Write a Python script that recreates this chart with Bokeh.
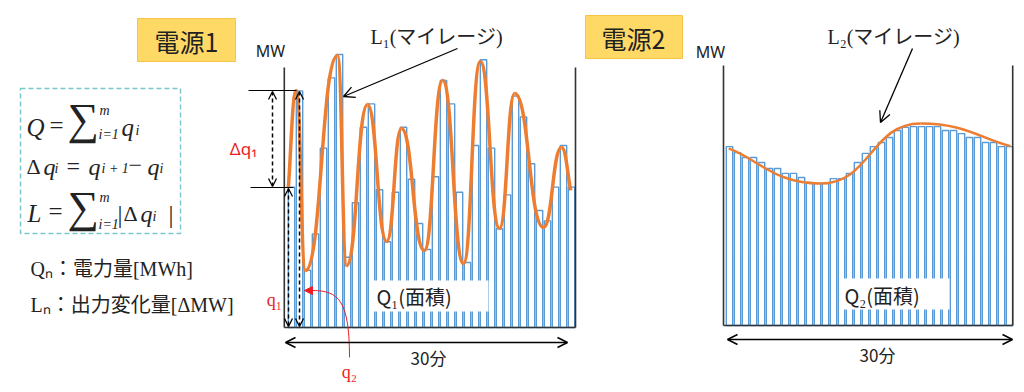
import numpy as np
from bokeh.plotting import figure
from bokeh.models import Range1d, Arrow, OpenHead, NormalHead
from bokeh.core.properties import value
from bokeh.embed import file_html
from bokeh.resources import INLINE

# ---------------- data ----------------
n_slots = 36
# source 1 output per interval (MW, arbitrary scale 0..100 = axis height)
source1_mw = [54, 91, 22, 36, 69, 96, 105, 27, 48, 77, 86, 53, 33, 52, 77, 57, 40, 30,
              58, 95, 86, 52, 25, 70, 103, 69, 38, 51, 89, 81, 63, 45, 41, 54, 70, 54]
# source 2 output per interval
source2_mw = [68.8, 66.5, 64.6, 64.6, 62.7, 60.4, 60.4, 58.5, 58.5, 56.9, 55.0, 54.6,
              54.6, 56.5, 56.5, 58.5, 62.7, 66.2, 68.8, 70.4, 72.3, 75.0, 76.2, 76.5,
              76.5, 76.5, 76.5, 75.0, 75.0, 73.8, 72.3, 72.3, 70.4, 70.4, 68.8, 68.8]
# mileage curves (turning points of the smooth lines)
curve1_t = [0.1, 1.1, 2.25, 6.25, 7.4, 10.0, 12.4, 14.25, 17.1, 19.4, 22.0, 24.1, 26.5,
            28.4, 32.0, 34.25, 35.4]
curve1_mw = [53.8, 91.2, 21.9, 104.6, 23.8, 85.8, 33.1, 76.5, 29.6, 95.0, 24.6, 102.3,
             38.1, 90.0, 38.5, 69.2, 52.7]
curve2_t = [0.4, 11.9, 24.4, 35.6]
curve2_mw = [68.1, 54.6, 77.7, 69.0]

titles = ["電源1", "電源2"]
area_labels = ["Q₁(面積)", "Q₂(面積)"]
mileage_labels = ["L₁(マイレージ)", "L₂(マイレージ)"]
unit_label = "MW"
span_label = "30分"
legend_lines = ["Qₙ：電力量[MWh]", "Lₙ：出力変化量[ΔMW]"]

# ---------------- figure ----------------
W, H = 1024, 392
p = figure(width=W, height=H, x_range=Range1d(0, W), y_range=Range1d(H, 0),
           output_backend="svg", toolbar_location=None, min_border=0,
           x_axis_type=None, y_axis_type=None)
p.grid.visible = False
p.outline_line_color = None
p.background_fill_color = "white"

PX_X = 8.0   # pixels per interval
PX_Y = 2.6   # pixels per MW unit


def chart_ranges(x0_px, y0_px):
    xr = Range1d((0 - x0_px) / PX_X, (W - x0_px) / PX_X)
    yr = Range1d((y0_px - H) / PX_Y, (y0_px - 0) / PX_Y)
    return xr, yr


x1r, y1r = chart_ranges(287, 327)
x2r, y2r = chart_ranges(725, 325)
p.extra_x_ranges = {"c1x": x1r, "c2x": x2r}
p.extra_y_ranges = {"c1y": y1r, "c2y": y2r}

BLUE = "#5B9BD5"
ORANGE = "#ED7D31"
RED = "#EE1C25"
DARK = "#222222"
CJK = "Noto Sans CJK JP"
SERIF_CJK = "'Liberation Serif', 'Noto Sans CJK JP'"


def txt(x, y, s, size, font=CJK, color=DARK, style="normal", align="left", baseline="middle"):
    p.text(x=[x], y=[y], text=[s], text_font=value(font), text_font_size=f"{size}px",
           text_font_style=style, text_color=color, text_align=align, text_baseline=baseline)


def bezier_curve(ts, vs, xr_name, yr_name, width):
    n = len(ts)
    x0, y0, x1, y1, cx0, cy0, cx1, cy1 = [], [], [], [], [], [], [], []
    for i in range(n - 1):
        ax, ay, bx, by = ts[i], vs[i], ts[i + 1], vs[i + 1]
        dx, dy = bx - ax, by - ay
        if i == 0:
            c0 = (ax + dx / 3, ay + dy / 3)
        else:
            c0 = (ax + dx / 2, ay)
        if i + 1 == n - 1:
            c1 = (bx - dx / 3, by - dy / 3)
        else:
            c1 = (bx - dx / 2, by)
        x0.append(ax); y0.append(ay); x1.append(bx); y1.append(by)
        cx0.append(c0[0]); cy0.append(c0[1]); cx1.append(c1[0]); cy1.append(c1[1])
    p.bezier(x0=x0, y0=y0, x1=x1, y1=y1, cx0=cx0, cy0=cy0, cx1=cx1, cy1=cy1,
             line_color=ORANGE, line_width=width, x_range_name=xr_name, y_range_name=yr_name)


t = np.arange(n_slots) + 0.5

# ---------- chart 1 ----------
p.vbar(x=t, top=source1_mw, bottom=0, width=0.8, fill_color="white", line_color=BLUE,
       line_width=1.4, x_range_name="c1x", y_range_name="c1y")
p.quad(left=[370], right=[488], top=[280], bottom=[311], fill_color="white", line_color=None)
txt(376, 296, area_labels[0], 20)
bezier_curve(curve1_t, curve1_mw, "c1x", "c1y", 3.5)
p.segment(x0=[-0.4, -0.4, 36.0], y0=[100, 0, 100], x1=[-0.4, 36.0, 36.0], y1=[0, 0, 0],
          line_color="#333333", line_width=1.6, x_range_name="c1x", y_range_name="c1y")

# ---------- chart 2 ----------
p.vbar(x=t, top=source2_mw, bottom=0, width=0.8, fill_color="white", line_color=BLUE,
       line_width=1.4, x_range_name="c2x", y_range_name="c2y")
p.quad(left=[843], right=[949], top=[278], bottom=[309], fill_color="white", line_color=None)
txt(844, 295, area_labels[1], 20)
bezier_curve(curve2_t, curve2_mw, "c2x", "c2y", 2.5)
p.segment(x0=[-0.25, -0.25, 35.9], y0=[100, 0, 100], x1=[-0.25, 35.9, 35.9], y1=[0, 0, 0],
          line_color="#333333", line_width=1.6, x_range_name="c2x", y_range_name="c2y")

# ---------- titles ----------
p.quad(left=[137, 585], right=[235, 682], top=[18, 15], bottom=[61, 58],
       fill_color="#FFD966", line_color="#F4C445", line_width=1)
txt(186, 40, titles[0], 25, align="center")
txt(633, 37, titles[1], 25, align="center")

txt(270, 50, unit_label, 16, font="Noto Sans", align="center")
txt(710, 51, unit_label, 16, font="Noto Sans", align="center")

# mileage labels + arrows
txt(370, 36, mileage_labels[0], 20, font=SERIF_CJK)
txt(827, 36, mileage_labels[1], 20, font=SERIF_CJK)
p.add_layout(Arrow(end=OpenHead(size=11, line_width=1.3), x_start=457, y_start=48,
                   x_end=343, y_end=96, line_width=1.3))
p.add_layout(Arrow(end=OpenHead(size=11, line_width=1.3), x_start=912, y_start=48,
                   x_end=880, y_end=122, line_width=1.3))

# 30 min spans
p.add_layout(Arrow(start=OpenHead(size=10, line_width=1.5), end=OpenHead(size=10, line_width=1.5),
                   x_start=285, y_start=342, x_end=567, y_end=342, line_width=1.5))
p.add_layout(Arrow(start=OpenHead(size=10, line_width=1.5), end=OpenHead(size=10, line_width=1.5),
                   x_start=727, y_start=339, x_end=1012, y_end=339, line_width=1.5))
txt(428, 357, span_label, 17, align="center")
txt(877, 354, span_label, 17, align="center")

# delta q1 dimension
p.segment(x0=[248, 250], y0=[90, 187], x1=[296, 293], y1=[90, 187], line_color="black", line_width=1.2)
for xs, ya, yb in [(272, 186, 91), (288, 188, 326), (299, 91, 326)]:
    p.add_layout(Arrow(start=OpenHead(size=8, line_width=1.3), end=OpenHead(size=8, line_width=1.3),
                       x_start=xs, y_start=ya, x_end=xs, y_end=yb, line_width=1.5, line_dash="4 3"))
txt(243, 148, "Δq₁", 17, font="Noto Sans", color=RED, align="center")
txt(274, 299, "q₁", 18, font="Liberation Serif", color=RED, align="center")
txt(349, 371, "q₂", 18, font="Liberation Serif", color=RED, align="center")
p.bezier(x0=[349], y0=[357], x1=[310], y1=[290], cx0=[349], cy0=[296], cx1=[336], cy1=[290],
         line_color=RED, line_width=1)
p.add_layout(Arrow(end=NormalHead(size=8, fill_color=RED, line_color=RED), x_start=312, y_start=290,
                   x_end=304, y_end=290, line_color=RED, line_width=1))

# formula box
p.quad(left=[20], right=[180], top=[88], bottom=[233], fill_color=None, line_color="#7CC6CE",
       line_width=1.5, line_dash="5 3")
F = "Liberation Serif"
# line 1
txt(26, 127, "Q", 25, F, style="italic", baseline="alphabetic")
txt(49, 125, "=", 25, F, baseline="alphabetic")
txt(67, 119, "∑", 44, F, baseline="alphabetic")
txt(99, 110, "m", 14, F, style="italic", baseline="alphabetic")
txt(98, 134, "i=1", 14, F, style="italic", baseline="alphabetic")
txt(121, 127, "q", 25, F, style="italic", baseline="alphabetic")
txt(135, 130, "i", 14, F, style="italic", baseline="alphabetic")
# line 2
txt(26, 166, "Δ", 22, F, baseline="alphabetic")
txt(43, 166, "q", 24, F, style="italic", baseline="alphabetic")
txt(54, 168, "i", 14, F, style="italic", baseline="alphabetic")
txt(66, 165, "=", 24, F, baseline="alphabetic")
txt(88, 166, "q", 24, F, style="italic", baseline="alphabetic")
txt(101, 168, "i + 1", 14, F, style="italic", baseline="alphabetic")
txt(128, 165, "−", 24, F, baseline="alphabetic")
txt(147, 166, "q", 24, F, style="italic", baseline="alphabetic")
txt(159, 168, "i", 14, F, style="italic", baseline="alphabetic")
# line 3
txt(27, 213, "L", 25, F, style="italic", baseline="alphabetic")
txt(48, 211, "=", 25, F, baseline="alphabetic")
txt(67, 207, "∑", 44, F, baseline="alphabetic")
txt(99, 197, "m", 14, F, style="italic", baseline="alphabetic")
txt(98, 224, "i=1", 14, F, style="italic", baseline="alphabetic")
txt(117, 214, "|", 25, F, baseline="alphabetic")
txt(123, 213, "Δ", 22, F, baseline="alphabetic")
txt(140, 213, "q", 24, F, style="italic", baseline="alphabetic")
txt(152, 216, "i", 14, F, style="italic", baseline="alphabetic")
txt(168, 214, "|", 25, F, baseline="alphabetic")

# legend lines
txt(30, 268, legend_lines[0], 20, font=SERIF_CJK)
txt(30, 304, legend_lines[1], 20, font=SERIF_CJK)

open("out.html", "w").write(file_html(p, INLINE))
